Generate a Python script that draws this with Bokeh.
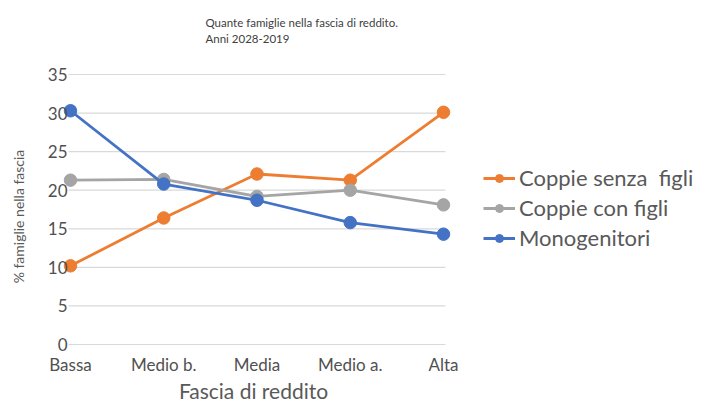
import math
from bokeh.plotting import figure
from bokeh.models import FixedTicker, Legend, LegendItem, Label, Range1d
from bokeh.embed import file_html
from bokeh.resources import INLINE

categories = ["Bassa", "Medio b.", "Media", "Medio a.", "Alta"]
coppie_senza_figli = [10.2, 16.4, 22.1, 21.3, 30.1]
coppie_con_figli = [21.3, 21.4, 19.2, 20.0, 18.1]
monogenitori = [30.3, 20.8, 18.7, 15.8, 14.3]
series_names = ["Coppie senza  figli", "Coppie con figli", "Monogenitori"]
y_ticks = [0, 5, 10, 15, 20, 25, 30, 35]

FONT = "Lato"
TXT = "#595959"
colors = ["#ED7D31", "#A5A5A5", "#4472C4"]

W, H = 702, 403
# layout in canvas pixels: first category at x=70, step 93.25 px; y=0 at 344, 35 at 74
X_ORIGIN, X_STEP = 70, 93.25
Y_ORIGIN, Y_STEP = 344, 270 / 35


def dx(px):
    return (px - X_ORIGIN) / X_STEP


def dy(py):
    return (Y_ORIGIN - py) / Y_STEP


xs = list(range(len(categories)))
n = len(categories)
pad = 0.021

p = figure(width=W, height=H, output_backend="svg", toolbar_location=None,
           x_range=Range1d(dx(0), dx(W)), y_range=Range1d(dy(H), dy(0)),
           min_border_left=0, min_border_right=0, min_border_top=0, min_border_bottom=0)
p.outline_line_color = None
p.background_fill_color = "white"
p.border_fill_color = "white"

p.xgrid.grid_line_color = None
p.ygrid.grid_line_color = None
p.segment(x0=[-pad] * len(y_ticks), x1=[n - 1 + pad] * len(y_ticks), y0=y_ticks, y1=y_ticks,
          line_color="#D9D9D9", line_width=1.2)

p.yaxis.ticker = FixedTicker(ticks=y_ticks)
p.xaxis.ticker = FixedTicker(ticks=xs)
p.xaxis.major_label_overrides = {i: c for i, c in enumerate(categories)}
p.xaxis.fixed_location = 0
p.yaxis.fixed_location = -pad
p.xaxis.bounds = (0, n - 1)
p.yaxis.bounds = (0, 35)
for ax in (p.xaxis[0], p.yaxis[0]):
    ax.axis_line_color = None
    ax.major_tick_line_color = None
    ax.minor_tick_line_color = None
    ax.major_label_text_font = FONT
    ax.major_label_text_font_size = "17px"
    ax.major_label_text_color = "#505050"
p.yaxis.major_label_standoff = -5
p.xaxis.major_label_standoff = 3

items = []
for vals, name, col in zip([coppie_senza_figli, coppie_con_figli, monogenitori], series_names, colors):
    r1 = p.line(xs, vals, line_color=col, line_width=2.8)
    r2 = p.scatter(xs, vals, size=12.5, fill_color=col, line_color=col)
    items.append(LegendItem(label=name, renderers=[r1, r2]))

legend = Legend(items=items, location=(483, H - 251), padding=0, margin=0,
                border_line_color=None, background_fill_alpha=0,
                glyph_width=32, glyph_height=20, label_height=20, spacing=3,
                label_standoff=4, label_text_font=FONT, label_text_font_size="22px",
                label_text_color=TXT)
p.add_layout(legend, "center")

title_lines = ["Quante famiglie nella fascia di reddito.", "Anni 2028-2019"]
for line, py in zip(title_lines, [22, 38]):
    p.add_layout(Label(x=dx(205), y=dy(py), text=line, text_font=FONT,
                       text_font_size="11.5px", text_color="#404040",
                       text_align="left", text_baseline="middle"))

p.add_layout(Label(x=dx(253), y=dy(390), text="Fascia di reddito", text_font=FONT,
                   text_font_size="21px", text_color=TXT,
                   text_align="center", text_baseline="middle"))
p.add_layout(Label(x=dx(18), y=dy(216), text="% famiglie nella fascia", text_font=FONT,
                   text_font_size="14px", text_color=TXT, angle=math.pi / 2,
                   text_align="center", text_baseline="middle"))

open("out.html", "w").write(file_html(p, INLINE))
